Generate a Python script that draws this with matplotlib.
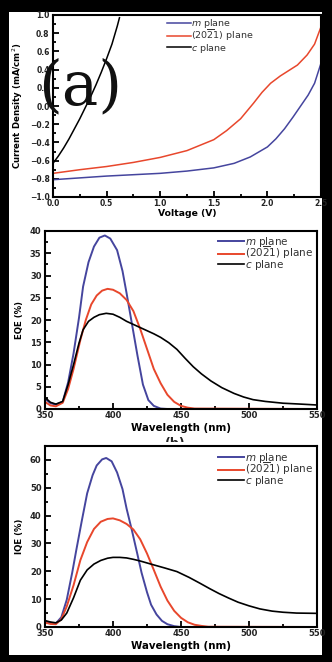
import matplotlib
matplotlib.use("Agg")
import matplotlib.pyplot as plt
from matplotlib.patches import Rectangle
from matplotlib.ticker import MultipleLocator
from matplotlib.transforms import Bbox, TransformedBbox

# ---- data ----
labels = [r"$\mathit{m}$ plane", r"(20$\overline{2}$1) plane", r"$\mathit{c}$ plane"]
colors = ["#45459e", "#e8472c", "#000000"]

# (a) J-V
v_m = [0.0, 0.25, 0.5, 0.75, 1.0, 1.25, 1.5, 1.69, 1.84, 2.0, 2.08, 2.16, 2.24, 2.31, 2.38, 2.44, 2.5]
j_m = [-0.81, -0.79, -0.77, -0.755, -0.74, -0.715, -0.68, -0.63, -0.56, -0.45, -0.36, -0.25, -0.12, 0.0, 0.12, 0.25, 0.47]
v_r = [0.0, 0.25, 0.5, 0.75, 1.0, 1.25, 1.5, 1.62, 1.75, 1.87, 1.95, 2.03, 2.12, 2.2, 2.28, 2.37, 2.44, 2.5]
j_r = [-0.74, -0.70, -0.665, -0.62, -0.565, -0.49, -0.37, -0.27, -0.14, 0.03, 0.15, 0.25, 0.33, 0.39, 0.45, 0.56, 0.68, 0.87]
v_c = [0.0, 0.05, 0.1, 0.15, 0.2, 0.25, 0.3, 0.35, 0.4, 0.45, 0.5, 0.55, 0.6, 0.62]
j_c = [-0.63, -0.55, -0.46, -0.36, -0.25, -0.14, -0.02, 0.10, 0.23, 0.37, 0.52, 0.68, 0.88, 0.97]

# (b) EQE
wl_m = [350, 354, 358, 363, 367, 371, 375, 378, 382, 386, 390, 394, 398, 403, 407, 410, 414, 418, 422, 426, 430, 435, 440, 550]
eqe_m = [2.3, 1.3, 1.0, 1.6, 6.0, 12.5, 20.5, 27.5, 33.0, 36.5, 38.5, 39.0, 38.3, 35.7, 31.0, 26.0, 19.0, 12.0, 5.5, 2.0, 0.7, 0.1, 0.0, 0.0]
wl_r = [350, 354, 358, 363, 367, 371, 376, 380, 384, 388, 392, 396, 400, 405, 410, 415, 420, 425, 430, 435, 440, 445, 450, 455, 460, 550]
eqe_r = [1.6, 0.8, 0.6, 1.4, 4.5, 9.0, 15.5, 20.0, 23.5, 25.5, 26.6, 27.0, 26.8, 26.0, 24.5, 22.0, 18.0, 13.5, 9.0, 5.8, 3.2, 1.6, 0.7, 0.3, 0.1, 0.0]
wl_c = [350, 354, 358, 363, 367, 371, 375, 378, 382, 386, 390, 395, 400, 405, 410, 415, 420, 425, 430, 435, 441, 447, 453, 459, 465, 472, 480, 489, 496, 503, 512, 525, 538, 550]
eqe_c = [2.6, 1.5, 1.1, 1.7, 5.5, 10.0, 14.8, 17.8, 19.7, 20.6, 21.2, 21.5, 21.3, 20.6, 19.7, 19.0, 18.3, 17.6, 16.9, 16.1, 14.9, 13.4, 11.4, 9.5, 7.9, 6.3, 4.8, 3.5, 2.7, 2.1, 1.7, 1.3, 1.1, 0.9]

# (c) IQE
wl_mi = [350, 354, 358, 362, 366, 370, 373, 377, 381, 385, 388, 392, 395, 399, 403, 407, 410, 414, 418, 421, 425, 428, 432, 436, 440, 445, 450, 550]
iqe_m = [2.0, 1.5, 1.3, 3.5, 9.8, 19.5, 27.6, 38.0, 48.0, 54.5, 58.0, 60.2, 60.7, 59.5, 55.5, 49.5, 42.5, 34.5, 26.0, 19.5, 12.5, 8.0, 4.5, 2.2, 1.0, 0.3, 0.0, 0.0]
wl_ri = [350, 354, 358, 362, 366, 371, 376, 381, 386, 391, 396, 400, 405, 410, 415, 420, 425, 430, 435, 440, 445, 450, 455, 460, 465, 470, 550]
iqe_r = [1.6, 1.1, 1.0, 2.8, 7.4, 15.0, 24.0, 30.5, 35.2, 37.8, 38.8, 39.0, 38.3, 37.0, 35.0, 31.5, 26.4, 20.5, 14.5, 9.5, 5.8, 3.3, 1.7, 0.8, 0.4, 0.1, 0.0]
wl_ci = [350, 354, 358, 362, 366, 371, 376, 381, 386, 391, 396, 400, 405, 410, 415, 420, 425, 430, 438, 447, 456, 464, 471, 478, 485, 492, 500, 508, 517, 525, 535, 550]
iqe_c = [2.3, 1.8, 1.5, 2.5, 5.0, 10.5, 16.8, 20.5, 22.6, 23.9, 24.7, 25.0, 25.0, 24.8, 24.3, 23.7, 23.0, 22.3, 21.2, 19.9, 17.8, 15.7, 13.8, 12.0, 10.4, 8.9, 7.6, 6.5, 5.7, 5.3, 5.0, 4.9]

# ---- figure ----
W, H = 332, 662
fig = plt.figure(figsize=(W / 100, H / 100), dpi=100, facecolor="black")
fig.patches.append(Rectangle((9 / W, 1 - 655 / H), 313 / W, 643 / H,
                             transform=fig.transFigure, facecolor="white",
                             edgecolor="none", zorder=-10))


def box(l, t, r, b):
    return [l / W, 1 - b / H, (r - l) / W, (b - t) / H]


def style(ax, xmaj, xmin, ymaj, ymin, fs):
    ax.xaxis.set_major_locator(MultipleLocator(xmaj))
    ax.xaxis.set_minor_locator(MultipleLocator(xmin))
    ax.yaxis.set_major_locator(MultipleLocator(ymaj))
    ax.yaxis.set_minor_locator(MultipleLocator(ymin))
    ax.tick_params(which="both", direction="in", top=False, right=False,
                   width=1.3, labelsize=fs, labelcolor="#222222")
    ax.tick_params(axis="x", pad=1.5)
    ax.tick_params(axis="y", pad=2.5)
    ax.tick_params(which="major", length=4)
    ax.tick_params(which="minor", length=2)
    for s in ax.spines.values():
        s.set_linewidth(1.5)
    for t in ax.get_xticklabels() + ax.get_yticklabels():
        t.set_fontweight("bold")


def legend(ax, fs, x, y, sp):
    ax.legend(loc="upper left", bbox_to_anchor=(x, y), frameon=False,
              fontsize=fs, handlelength=2.5, handletextpad=0.1,
              labelspacing=sp, borderpad=0, borderaxespad=0,
              labelcolor="#333333")


# panel (a)
ax1 = fig.add_axes(box(53, 15, 321, 197))
ax1.plot(v_m, j_m, color=colors[0], lw=1.1, label=labels[0])
ax1.plot(v_r, j_r, color=colors[1], lw=1.1, label=labels[1])
ax1.plot(v_c, j_c, color=colors[2], lw=1.1, label=labels[2])
ax1.set_xlim(0, 2.5)
ax1.set_ylim(-1.0, 1.0)
style(ax1, 0.5, 0.25, 0.2, 0.1, 5.5)
ax1.set_xlabel("Voltage (V)", fontsize=6.7, fontweight="bold", labelpad=1)
ax1.set_ylabel("Current Density (mA/cm$^2$)", fontsize=6.2, fontweight="bold", labelpad=3)
legend(ax1, 6.8, 0.425, 0.99, -0.18)
ax1.text(0.10, 0.60, "(a)", transform=ax1.transAxes, fontsize=44,
         family="DejaVu Serif", ha="center", va="center", color="#111111")

# panel (b)
ax2 = fig.add_axes(box(45, 231, 317, 409))
ax2.plot(wl_m, eqe_m, color=colors[0], lw=1.4, label=labels[0])
ax2.plot(wl_r, eqe_r, color=colors[1], lw=1.4, label=labels[1])
ax2.plot(wl_c, eqe_c, color=colors[2], lw=1.2, label=labels[2])
ax2.set_xlim(350, 550)
ax2.set_ylim(0, 40)
style(ax2, 50, 25, 5, 2.5, 6)
ax2.set_xlabel("Wavelength (nm)", fontsize=7.4, fontweight="bold", labelpad=2)
ax2.set_ylabel("EQE (%)", fontsize=6.2, fontweight="bold", labelpad=4)
legend(ax2, 7.5, 0.636, 0.98, -0.36)

# partly hidden panel tag below (b)
tag = fig.text(175 / W, 1 - 437 / H, "(b)", fontsize=9, fontweight="bold",
               ha="center", va="top", color="#222222")
tag.set_clip_box(TransformedBbox(Bbox.from_extents(0, 1 - 442 / H, 1, 1),
                                 fig.transFigure))
tag.set_clip_on(True)

# panel (c)
ax3 = fig.add_axes(box(45, 446, 317, 627))
ax3.plot(wl_mi, iqe_m, color=colors[0], lw=1.4, label=labels[0])
ax3.plot(wl_ri, iqe_r, color=colors[1], lw=1.4, label=labels[1])
ax3.plot(wl_ci, iqe_c, color=colors[2], lw=1.2, label=labels[2])
ax3.set_xlim(350, 550)
ax3.set_ylim(0, 65)
style(ax3, 50, 25, 10, 5, 6)
ax3.set_xlabel("Wavelength (nm)", fontsize=7.4, fontweight="bold", labelpad=2)
ax3.set_ylabel("IQE (%)", fontsize=6.2, fontweight="bold", labelpad=4)
legend(ax3, 7.5, 0.636, 0.975, -0.36)

fig.savefig("out.png", dpi=100, facecolor="black")
